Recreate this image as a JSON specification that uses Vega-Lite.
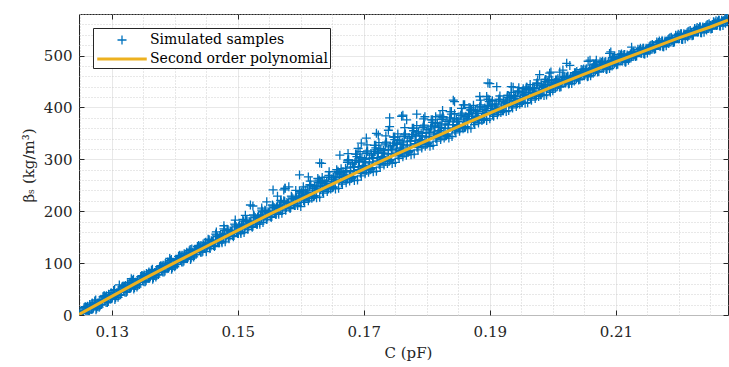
{
"$schema": "https://vega.github.io/schema/vega-lite/v6.json",
"autosize": {"type": "none"},
"padding": {"left": 79, "top": 14, "right": 1, "bottom": 52},
"width": 649,
"height": 301,
"config": {
  "font": "DejaVu Serif",
  "view": {"stroke": "#262626", "strokeWidth": 1},
  "axis": {"labelFont": "DejaVu Serif", "titleFont": "DejaVu Serif", "labelColor": "#262626", "titleColor": "#262626", "labelFontSize": 15, "titleFontSize": 15, "titleFontWeight": "normal", "domain": false, "tickColor": "#262626", "tickWidth": 1},
  "legend": {"labelFont": "DejaVu Serif"}
},
"datasets": {
"samples": [
{"C":0.1246,"beta":-4},{"C":0.1248,"beta":3},
{"C":0.125,"beta":-6},{"C":0.1253,"beta":8},{"C":0.1255,"beta":3},{"C":0.1258,"beta":16},
{"C":0.126,"beta":15},{"C":0.1263,"beta":4},{"C":0.1265,"beta":20},{"C":0.1268,"beta":11},
{"C":0.127,"beta":12},{"C":0.1273,"beta":27},{"C":0.1275,"beta":10},{"C":0.1278,"beta":23},
{"C":0.128,"beta":15},{"C":0.1283,"beta":29},{"C":0.1285,"beta":24},{"C":0.1288,"beta":37},
{"C":0.129,"beta":35},{"C":0.1293,"beta":24},{"C":0.1295,"beta":40},{"C":0.1298,"beta":31},
{"C":0.13,"beta":32},{"C":0.1303,"beta":47},{"C":0.1305,"beta":30},{"C":0.1308,"beta":43},
{"C":0.131,"beta":34},{"C":0.1313,"beta":48},{"C":0.1315,"beta":43},{"C":0.1318,"beta":56},
{"C":0.132,"beta":55},{"C":0.1323,"beta":44},{"C":0.1325,"beta":60},{"C":0.1328,"beta":51},
{"C":0.133,"beta":52},{"C":0.1333,"beta":67},{"C":0.1335,"beta":50},{"C":0.1338,"beta":63},
{"C":0.134,"beta":54},{"C":0.1343,"beta":68},{"C":0.1345,"beta":63},{"C":0.1348,"beta":76},
{"C":0.135,"beta":75},{"C":0.1353,"beta":64},{"C":0.1355,"beta":80},{"C":0.1358,"beta":71},
{"C":0.136,"beta":71},{"C":0.1363,"beta":86},{"C":0.1365,"beta":69},{"C":0.1368,"beta":82},
{"C":0.137,"beta":73},{"C":0.1373,"beta":87},{"C":0.1375,"beta":82},{"C":0.1378,"beta":95},
{"C":0.138,"beta":94},{"C":0.1383,"beta":83},{"C":0.1385,"beta":99},{"C":0.1388,"beta":90},
{"C":0.139,"beta":90},{"C":0.1393,"beta":105},{"C":0.1395,"beta":88},{"C":0.1398,"beta":101},
{"C":0.14,"beta":93},{"C":0.1403,"beta":107},{"C":0.1405,"beta":102},{"C":0.1408,"beta":115},
{"C":0.141,"beta":113},{"C":0.1413,"beta":102},{"C":0.1415,"beta":118},{"C":0.1418,"beta":109},
{"C":0.142,"beta":109},{"C":0.1423,"beta":124},{"C":0.1425,"beta":107},{"C":0.1428,"beta":120},
{"C":0.143,"beta":112},{"C":0.1433,"beta":126},{"C":0.1435,"beta":121},{"C":0.1438,"beta":134},
{"C":0.144,"beta":132},{"C":0.1443,"beta":121},{"C":0.1445,"beta":137},{"C":0.1448,"beta":128},
{"C":0.1312,"beta":58},{"C":0.1331,"beta":70},{"C":0.1392,"beta":109},{"C":0.1427,"beta":127},
{"C":0.1251,"beta":6},{"C":0.1254,"beta":-1},{"C":0.1256,"beta":14},{"C":0.1259,"beta":6},
{"C":0.1261,"beta":4},{"C":0.1264,"beta":12},{"C":0.1266,"beta":17},{"C":0.1269,"beta":23},
{"C":0.1271,"beta":15},{"C":0.1274,"beta":24},{"C":0.1276,"beta":13},{"C":0.1279,"beta":23},
{"C":0.1281,"beta":27},{"C":0.1284,"beta":20},{"C":0.1286,"beta":35},{"C":0.1289,"beta":27},
{"C":0.1291,"beta":24},{"C":0.1294,"beta":32},{"C":0.1296,"beta":37},{"C":0.1299,"beta":43},
{"C":0.1301,"beta":35},{"C":0.1304,"beta":44},{"C":0.1306,"beta":33},{"C":0.1309,"beta":43},
{"C":0.1311,"beta":46},{"C":0.1314,"beta":39},{"C":0.1316,"beta":54},{"C":0.1319,"beta":46},
{"C":0.1321,"beta":44},{"C":0.1324,"beta":52},{"C":0.1326,"beta":57},{"C":0.1329,"beta":63},
{"C":0.1331,"beta":55},{"C":0.1334,"beta":64},{"C":0.1336,"beta":53},{"C":0.1339,"beta":63},
{"C":0.1341,"beta":66},{"C":0.1344,"beta":59},{"C":0.1346,"beta":74},{"C":0.1349,"beta":66},
{"C":0.1351,"beta":64},{"C":0.1354,"beta":72},{"C":0.1356,"beta":77},{"C":0.1359,"beta":83},
{"C":0.1361,"beta":74},{"C":0.1364,"beta":83},{"C":0.1366,"beta":72},{"C":0.1369,"beta":82},
{"C":0.1371,"beta":85},{"C":0.1374,"beta":78},{"C":0.1376,"beta":93},{"C":0.1379,"beta":85},
{"C":0.1381,"beta":83},{"C":0.1384,"beta":91},{"C":0.1386,"beta":96},{"C":0.1389,"beta":102},
{"C":0.1391,"beta":93},{"C":0.1394,"beta":102},{"C":0.1396,"beta":91},{"C":0.1399,"beta":101},
{"C":0.1401,"beta":105},{"C":0.1404,"beta":98},{"C":0.1406,"beta":113},{"C":0.1409,"beta":105},
{"C":0.1411,"beta":102},{"C":0.1414,"beta":110},{"C":0.1416,"beta":115},{"C":0.1419,"beta":121},
{"C":0.1421,"beta":112},{"C":0.1424,"beta":121},{"C":0.1426,"beta":110},{"C":0.1429,"beta":120},
{"C":0.1431,"beta":124},{"C":0.1434,"beta":117},{"C":0.1436,"beta":132},{"C":0.1439,"beta":124},
{"C":0.1441,"beta":121},{"C":0.1444,"beta":129},{"C":0.1446,"beta":134},{"C":0.1449,"beta":140},
{"C":0.12515,"beta":-2},{"C":0.12545,"beta":8},{"C":0.12575,"beta":15},
{"C":0.12615,"beta":17},{"C":0.12645,"beta":6},{"C":0.12675,"beta":14},
{"C":0.12715,"beta":17},{"C":0.12745,"beta":29},{"C":0.12775,"beta":17},
{"C":0.12815,"beta":19},{"C":0.12845,"beta":29},{"C":0.12875,"beta":36},
{"C":0.12915,"beta":37},{"C":0.12945,"beta":26},{"C":0.12975,"beta":34},
{"C":0.13015,"beta":37},{"C":0.13045,"beta":49},{"C":0.13075,"beta":37},
{"C":0.13115,"beta":38},{"C":0.13145,"beta":48},{"C":0.13175,"beta":55},
{"C":0.13215,"beta":57},{"C":0.13245,"beta":46},{"C":0.13275,"beta":54},
{"C":0.13315,"beta":57},{"C":0.13345,"beta":69},{"C":0.13375,"beta":57},
{"C":0.13415,"beta":58},{"C":0.13445,"beta":68},{"C":0.13475,"beta":75},
{"C":0.13515,"beta":77},{"C":0.13545,"beta":66},{"C":0.13575,"beta":74},
{"C":0.13615,"beta":76},{"C":0.13645,"beta":88},{"C":0.13675,"beta":76},
{"C":0.13715,"beta":77},{"C":0.13745,"beta":87},{"C":0.13775,"beta":94},
{"C":0.13815,"beta":96},{"C":0.13845,"beta":85},{"C":0.13875,"beta":93},
{"C":0.13915,"beta":95},{"C":0.13945,"beta":107},{"C":0.13975,"beta":95},
{"C":0.14015,"beta":97},{"C":0.14045,"beta":107},{"C":0.14075,"beta":114},
{"C":0.14115,"beta":115},{"C":0.14145,"beta":104},{"C":0.14175,"beta":112},
{"C":0.14215,"beta":114},{"C":0.14245,"beta":126},{"C":0.14275,"beta":114},
{"C":0.14315,"beta":116},{"C":0.14345,"beta":126},{"C":0.14375,"beta":133},
{"C":0.14415,"beta":134},{"C":0.14445,"beta":123},{"C":0.14475,"beta":131},
{"C":0.145,"beta":122},{"C":0.1453,"beta":146},{"C":0.1455,"beta":132},{"C":0.1458,"beta":143},
{"C":0.146,"beta":142},{"C":0.1463,"beta":132},{"C":0.1465,"beta":156},{"C":0.1468,"beta":142},
{"C":0.147,"beta":139},{"C":0.1473,"beta":155},{"C":0.1475,"beta":139},{"C":0.1478,"beta":166},
{"C":0.148,"beta":141},{"C":0.1483,"beta":165},{"C":0.1485,"beta":151},{"C":0.1488,"beta":162},
{"C":0.149,"beta":161},{"C":0.1493,"beta":151},{"C":0.1495,"beta":175},{"C":0.1498,"beta":161},
{"C":0.15,"beta":157},{"C":0.1503,"beta":173},{"C":0.1505,"beta":157},{"C":0.1508,"beta":184},
{"C":0.151,"beta":159},{"C":0.1513,"beta":183},{"C":0.1515,"beta":169},{"C":0.1518,"beta":180},
{"C":0.152,"beta":179},{"C":0.1523,"beta":169},{"C":0.1525,"beta":193},{"C":0.1528,"beta":179},
{"C":0.153,"beta":175},{"C":0.1533,"beta":191},{"C":0.1535,"beta":175},{"C":0.1538,"beta":202},
{"C":0.154,"beta":178},{"C":0.1543,"beta":202},{"C":0.1545,"beta":188},{"C":0.1548,"beta":199},
{"C":0.155,"beta":198},{"C":0.1553,"beta":188},{"C":0.1555,"beta":212},{"C":0.1558,"beta":198},
{"C":0.156,"beta":194},{"C":0.1563,"beta":210},{"C":0.1565,"beta":194},{"C":0.1568,"beta":221},
{"C":0.157,"beta":196},{"C":0.1573,"beta":220},{"C":0.1575,"beta":206},{"C":0.1578,"beta":217},
{"C":0.158,"beta":215},{"C":0.1583,"beta":205},{"C":0.1585,"beta":229},{"C":0.1588,"beta":215},
{"C":0.159,"beta":211},{"C":0.1593,"beta":227},{"C":0.1595,"beta":211},{"C":0.1598,"beta":238},
{"C":0.1451,"beta":131},{"C":0.1454,"beta":143},{"C":0.1456,"beta":128},{"C":0.1459,"beta":141},
{"C":0.1461,"beta":144},{"C":0.1464,"beta":134},{"C":0.1466,"beta":154},{"C":0.1469,"beta":143},
{"C":0.1471,"beta":139},{"C":0.1474,"beta":150},{"C":0.1476,"beta":155},{"C":0.1479,"beta":163},
{"C":0.1481,"beta":150},{"C":0.1484,"beta":162},{"C":0.1486,"beta":147},{"C":0.1489,"beta":160},
{"C":0.1491,"beta":163},{"C":0.1494,"beta":153},{"C":0.1496,"beta":173},{"C":0.1499,"beta":162},
{"C":0.1501,"beta":157},{"C":0.1504,"beta":168},{"C":0.1506,"beta":173},{"C":0.1509,"beta":181},
{"C":0.1511,"beta":168},{"C":0.1514,"beta":180},{"C":0.1516,"beta":165},{"C":0.1519,"beta":178},
{"C":0.1521,"beta":181},{"C":0.1524,"beta":171},{"C":0.1526,"beta":191},{"C":0.1529,"beta":180},
{"C":0.1531,"beta":175},{"C":0.1534,"beta":186},{"C":0.1536,"beta":191},{"C":0.1539,"beta":199},
{"C":0.1541,"beta":187},{"C":0.1544,"beta":199},{"C":0.1546,"beta":184},{"C":0.1549,"beta":197},
{"C":0.1551,"beta":200},{"C":0.1554,"beta":190},{"C":0.1556,"beta":210},{"C":0.1559,"beta":199},
{"C":0.1561,"beta":194},{"C":0.1564,"beta":205},{"C":0.1566,"beta":210},{"C":0.1569,"beta":218},
{"C":0.1571,"beta":205},{"C":0.1574,"beta":217},{"C":0.1576,"beta":202},{"C":0.1579,"beta":215},
{"C":0.1581,"beta":217},{"C":0.1584,"beta":207},{"C":0.1586,"beta":227},{"C":0.1589,"beta":216},
{"C":0.1591,"beta":211},{"C":0.1594,"beta":222},{"C":0.1596,"beta":227},{"C":0.1599,"beta":235},
{"C":0.14515,"beta":133},{"C":0.14545,"beta":145},{"C":0.14575,"beta":133},
{"C":0.14615,"beta":134},{"C":0.14645,"beta":144},{"C":0.14675,"beta":151},
{"C":0.14715,"beta":153},{"C":0.14745,"beta":142},{"C":0.14775,"beta":150},
{"C":0.14815,"beta":152},{"C":0.14845,"beta":164},{"C":0.14875,"beta":152},
{"C":0.14915,"beta":153},{"C":0.14945,"beta":163},{"C":0.14975,"beta":170},
{"C":0.15015,"beta":171},{"C":0.15045,"beta":160},{"C":0.15075,"beta":168},
{"C":0.15115,"beta":170},{"C":0.15145,"beta":182},{"C":0.15175,"beta":170},
{"C":0.15215,"beta":171},{"C":0.15245,"beta":181},{"C":0.15275,"beta":188},
{"C":0.15315,"beta":189},{"C":0.15345,"beta":178},{"C":0.15375,"beta":186},
{"C":0.15415,"beta":189},{"C":0.15445,"beta":201},{"C":0.15475,"beta":189},
{"C":0.15515,"beta":190},{"C":0.15545,"beta":200},{"C":0.15575,"beta":207},
{"C":0.15615,"beta":208},{"C":0.15645,"beta":197},{"C":0.15675,"beta":205},
{"C":0.15715,"beta":207},{"C":0.15745,"beta":219},{"C":0.15775,"beta":207},
{"C":0.15815,"beta":207},{"C":0.15845,"beta":217},{"C":0.15875,"beta":224},
{"C":0.15915,"beta":225},{"C":0.15945,"beta":214},{"C":0.15975,"beta":222},
{"C":0.1496,"beta":183},{"C":0.152,"beta":212},{"C":0.1524,"beta":210},{"C":0.1556,"beta":241},{"C":0.1573,"beta":241},{"C":0.1581,"beta":247},{"C":0.1466,"beta":160},{"C":0.1512,"beta":192},{"C":0.1538,"beta":206},{"C":0.1546,"beta":218},{"C":0.1563,"beta":229},{"C":0.1592,"beta":240},{"C":0.1478,"beta":172},{"C":0.1575,"beta":244},
{"C":0.16,"beta":209},{"C":0.1602,"beta":230},{"C":0.1604,"beta":247},{"C":0.1605,"beta":223},{"C":0.1607,"beta":241},{"C":0.1609,"beta":232},
{"C":0.161,"beta":229},{"C":0.1612,"beta":220},{"C":0.1614,"beta":247},{"C":0.1615,"beta":258},{"C":0.1617,"beta":229},{"C":0.1619,"beta":244},
{"C":0.162,"beta":228},{"C":0.1622,"beta":248},{"C":0.1624,"beta":240},{"C":0.1625,"beta":226},{"C":0.1627,"beta":263},{"C":0.1629,"beta":258},
{"C":0.163,"beta":227},{"C":0.1632,"beta":248},{"C":0.1634,"beta":265},{"C":0.1635,"beta":241},{"C":0.1637,"beta":259},{"C":0.1639,"beta":250},
{"C":0.164,"beta":247},{"C":0.1642,"beta":238},{"C":0.1644,"beta":265},{"C":0.1645,"beta":276},{"C":0.1647,"beta":247},{"C":0.1649,"beta":262},
{"C":0.165,"beta":245},{"C":0.1652,"beta":265},{"C":0.1654,"beta":257},{"C":0.1655,"beta":243},{"C":0.1657,"beta":280},{"C":0.1659,"beta":275},
{"C":0.166,"beta":244},{"C":0.1662,"beta":265},{"C":0.1664,"beta":282},{"C":0.1665,"beta":258},{"C":0.1667,"beta":276},{"C":0.1669,"beta":267},
{"C":0.1601,"beta":224},{"C":0.1604,"beta":240},{"C":0.1606,"beta":217},{"C":0.1609,"beta":235},
{"C":0.1611,"beta":239},{"C":0.1614,"beta":225},{"C":0.1616,"beta":250},{"C":0.1619,"beta":236},
{"C":0.1621,"beta":229},{"C":0.1624,"beta":243},{"C":0.1626,"beta":249},{"C":0.1629,"beta":260},
{"C":0.1631,"beta":242},{"C":0.1634,"beta":258},{"C":0.1636,"beta":235},{"C":0.1639,"beta":253},
{"C":0.1641,"beta":257},{"C":0.1644,"beta":243},{"C":0.1646,"beta":268},{"C":0.1649,"beta":254},
{"C":0.1651,"beta":246},{"C":0.1654,"beta":260},{"C":0.1656,"beta":266},{"C":0.1659,"beta":277},
{"C":0.1661,"beta":259},{"C":0.1664,"beta":275},{"C":0.1666,"beta":252},{"C":0.1669,"beta":270},
{"C":0.16015,"beta":237},{"C":0.16045,"beta":220},{"C":0.16075,"beta":230},
{"C":0.16115,"beta":231},{"C":0.16145,"beta":251},{"C":0.16175,"beta":225},
{"C":0.16215,"beta":230},{"C":0.16245,"beta":245},{"C":0.16275,"beta":255},
{"C":0.16315,"beta":255},{"C":0.16345,"beta":238},{"C":0.16375,"beta":248},
{"C":0.16415,"beta":249},{"C":0.16445,"beta":269},{"C":0.16475,"beta":243},
{"C":0.16515,"beta":247},{"C":0.16545,"beta":262},{"C":0.16575,"beta":272},
{"C":0.16615,"beta":272},{"C":0.16645,"beta":255},{"C":0.16675,"beta":265},
{"C":0.167,"beta":266},{"C":0.1672,"beta":255},{"C":0.1674,"beta":294},{"C":0.1675,"beta":311},{"C":0.1677,"beta":268},{"C":0.1679,"beta":285},{"C":0.1673,"beta":278},
{"C":0.168,"beta":263},{"C":0.1682,"beta":291},{"C":0.1684,"beta":278},{"C":0.1685,"beta":259},{"C":0.1687,"beta":310},{"C":0.1689,"beta":305},{"C":0.1683,"beta":267},
{"C":0.169,"beta":260},{"C":0.1692,"beta":286},{"C":0.1694,"beta":315},{"C":0.1695,"beta":275},{"C":0.1697,"beta":303},{"C":0.1699,"beta":288},{"C":0.1693,"beta":295},
{"C":0.17,"beta":283},{"C":0.1702,"beta":272},{"C":0.1704,"beta":311},{"C":0.1705,"beta":328},{"C":0.1707,"beta":285},{"C":0.1709,"beta":302},{"C":0.1703,"beta":295},
{"C":0.171,"beta":280},{"C":0.1712,"beta":308},{"C":0.1714,"beta":295},{"C":0.1715,"beta":276},{"C":0.1717,"beta":327},{"C":0.1719,"beta":322},{"C":0.1713,"beta":284},
{"C":0.172,"beta":277},{"C":0.1722,"beta":303},{"C":0.1724,"beta":332},{"C":0.1725,"beta":292},{"C":0.1727,"beta":320},{"C":0.1729,"beta":305},{"C":0.1723,"beta":312},
{"C":0.173,"beta":300},{"C":0.1732,"beta":289},{"C":0.1734,"beta":328},{"C":0.1735,"beta":345},{"C":0.1737,"beta":302},{"C":0.1739,"beta":319},{"C":0.1733,"beta":312},
{"C":0.174,"beta":296},{"C":0.1742,"beta":324},{"C":0.1744,"beta":311},{"C":0.1745,"beta":292},{"C":0.1747,"beta":343},{"C":0.1749,"beta":338},{"C":0.1743,"beta":300},
{"C":0.175,"beta":294},{"C":0.1752,"beta":320},{"C":0.1754,"beta":349},{"C":0.1755,"beta":309},{"C":0.1757,"beta":337},{"C":0.1759,"beta":322},{"C":0.1753,"beta":329},
{"C":0.176,"beta":316},{"C":0.1762,"beta":305},{"C":0.1764,"beta":344},{"C":0.1765,"beta":361},{"C":0.1767,"beta":318},{"C":0.1769,"beta":335},{"C":0.1763,"beta":328},
{"C":0.177,"beta":313},{"C":0.1772,"beta":341},{"C":0.1774,"beta":328},{"C":0.1775,"beta":309},{"C":0.1777,"beta":360},{"C":0.1779,"beta":355},{"C":0.1773,"beta":317},
{"C":0.178,"beta":310},{"C":0.1782,"beta":336},{"C":0.1784,"beta":365},{"C":0.1785,"beta":325},{"C":0.1787,"beta":353},{"C":0.1789,"beta":338},{"C":0.1783,"beta":345},
{"C":0.179,"beta":333},{"C":0.1792,"beta":322},{"C":0.1794,"beta":361},{"C":0.1795,"beta":378},{"C":0.1797,"beta":335},{"C":0.1799,"beta":352},{"C":0.1793,"beta":345},
{"C":0.18,"beta":329},{"C":0.1802,"beta":357},{"C":0.1804,"beta":344},{"C":0.1805,"beta":325},{"C":0.1807,"beta":376},{"C":0.1809,"beta":371},{"C":0.1803,"beta":333},
{"C":0.181,"beta":327},{"C":0.1812,"beta":353},{"C":0.1814,"beta":382},{"C":0.1815,"beta":342},{"C":0.1817,"beta":370},{"C":0.1819,"beta":355},{"C":0.1813,"beta":362},
{"C":0.182,"beta":349},{"C":0.1822,"beta":338},{"C":0.1824,"beta":377},{"C":0.1825,"beta":394},{"C":0.1827,"beta":351},{"C":0.1829,"beta":368},{"C":0.1823,"beta":361},
{"C":0.183,"beta":345},{"C":0.1832,"beta":373},{"C":0.1834,"beta":360},{"C":0.1835,"beta":341},{"C":0.1837,"beta":392},{"C":0.1839,"beta":387},{"C":0.1833,"beta":349},
{"C":0.1671,"beta":283},{"C":0.1674,"beta":262},{"C":0.1676,"beta":299},{"C":0.1679,"beta":276},
{"C":0.1681,"beta":264},{"C":0.1684,"beta":285},{"C":0.1686,"beta":294},{"C":0.1689,"beta":310},
{"C":0.1691,"beta":280},{"C":0.1694,"beta":303},{"C":0.1696,"beta":268},{"C":0.1699,"beta":295},
{"C":0.1701,"beta":300},{"C":0.1704,"beta":279},{"C":0.1706,"beta":316},{"C":0.1709,"beta":293},
{"C":0.1711,"beta":281},{"C":0.1714,"beta":302},{"C":0.1716,"beta":311},{"C":0.1719,"beta":327},
{"C":0.1721,"beta":297},{"C":0.1724,"beta":320},{"C":0.1726,"beta":285},{"C":0.1729,"beta":312},
{"C":0.1731,"beta":317},{"C":0.1734,"beta":296},{"C":0.1736,"beta":333},{"C":0.1739,"beta":310},
{"C":0.1741,"beta":297},{"C":0.1744,"beta":318},{"C":0.1746,"beta":327},{"C":0.1749,"beta":343},
{"C":0.1751,"beta":314},{"C":0.1754,"beta":337},{"C":0.1756,"beta":302},{"C":0.1759,"beta":329},
{"C":0.1761,"beta":333},{"C":0.1764,"beta":312},{"C":0.1766,"beta":349},{"C":0.1769,"beta":326},
{"C":0.1771,"beta":314},{"C":0.1774,"beta":335},{"C":0.1776,"beta":344},{"C":0.1779,"beta":360},
{"C":0.1781,"beta":330},{"C":0.1784,"beta":353},{"C":0.1786,"beta":318},{"C":0.1789,"beta":345},
{"C":0.1791,"beta":350},{"C":0.1794,"beta":329},{"C":0.1796,"beta":366},{"C":0.1799,"beta":343},
{"C":0.1801,"beta":330},{"C":0.1804,"beta":351},{"C":0.1806,"beta":360},{"C":0.1809,"beta":376},
{"C":0.1811,"beta":347},{"C":0.1814,"beta":370},{"C":0.1816,"beta":335},{"C":0.1819,"beta":362},
{"C":0.1821,"beta":366},{"C":0.1824,"beta":345},{"C":0.1826,"beta":382},{"C":0.1829,"beta":359},
{"C":0.1831,"beta":346},{"C":0.1834,"beta":367},{"C":0.1836,"beta":376},{"C":0.1839,"beta":392},
{"C":0.16715,"beta":268},{"C":0.16745,"beta":297},{"C":0.16775,"beta":258},
{"C":0.16815,"beta":265},{"C":0.16845,"beta":285},{"C":0.16875,"beta":298},
{"C":0.16915,"beta":297},{"C":0.16945,"beta":273},{"C":0.16975,"beta":283},
{"C":0.17015,"beta":285},{"C":0.17045,"beta":314},{"C":0.17075,"beta":275},
{"C":0.17115,"beta":282},{"C":0.17145,"beta":302},{"C":0.17175,"beta":315},
{"C":0.17215,"beta":314},{"C":0.17245,"beta":290},{"C":0.17275,"beta":300},
{"C":0.17315,"beta":302},{"C":0.17345,"beta":331},{"C":0.17375,"beta":292},
{"C":0.17415,"beta":298},{"C":0.17445,"beta":318},{"C":0.17475,"beta":331},
{"C":0.17515,"beta":331},{"C":0.17545,"beta":307},{"C":0.17575,"beta":317},
{"C":0.17615,"beta":318},{"C":0.17645,"beta":347},{"C":0.17675,"beta":308},
{"C":0.17715,"beta":315},{"C":0.17745,"beta":335},{"C":0.17775,"beta":348},
{"C":0.17815,"beta":347},{"C":0.17845,"beta":323},{"C":0.17875,"beta":333},
{"C":0.17915,"beta":335},{"C":0.17945,"beta":364},{"C":0.17975,"beta":325},
{"C":0.18015,"beta":331},{"C":0.18045,"beta":351},{"C":0.18075,"beta":364},
{"C":0.18115,"beta":364},{"C":0.18145,"beta":340},{"C":0.18175,"beta":350},
{"C":0.18215,"beta":351},{"C":0.18245,"beta":380},{"C":0.18275,"beta":341},
{"C":0.18315,"beta":347},{"C":0.18345,"beta":367},{"C":0.18375,"beta":380},
{"C":0.184,"beta":344},{"C":0.1842,"beta":367},{"C":0.1844,"beta":388},{"C":0.1845,"beta":358},{"C":0.1847,"beta":378},{"C":0.1849,"beta":367},
{"C":0.185,"beta":363},{"C":0.1852,"beta":354},{"C":0.1854,"beta":385},{"C":0.1855,"beta":398},{"C":0.1857,"beta":363},{"C":0.1859,"beta":380},
{"C":0.186,"beta":361},{"C":0.1862,"beta":383},{"C":0.1864,"beta":374},{"C":0.1865,"beta":359},{"C":0.1867,"beta":400},{"C":0.1869,"beta":395},
{"C":0.187,"beta":360},{"C":0.1872,"beta":383},{"C":0.1874,"beta":404},{"C":0.1875,"beta":374},{"C":0.1877,"beta":394},{"C":0.1879,"beta":383},
{"C":0.188,"beta":379},{"C":0.1882,"beta":370},{"C":0.1884,"beta":401},{"C":0.1885,"beta":414},{"C":0.1887,"beta":379},{"C":0.1889,"beta":396},
{"C":0.189,"beta":377},{"C":0.1892,"beta":399},{"C":0.1894,"beta":390},{"C":0.1895,"beta":375},{"C":0.1897,"beta":416},{"C":0.1899,"beta":411},
{"C":0.1841,"beta":360},{"C":0.1844,"beta":379},{"C":0.1846,"beta":351},{"C":0.1849,"beta":373},
{"C":0.1851,"beta":376},{"C":0.1854,"beta":360},{"C":0.1856,"beta":389},{"C":0.1859,"beta":372},
{"C":0.1861,"beta":362},{"C":0.1864,"beta":378},{"C":0.1866,"beta":386},{"C":0.1869,"beta":399},
{"C":0.1871,"beta":376},{"C":0.1874,"beta":395},{"C":0.1876,"beta":367},{"C":0.1879,"beta":389},
{"C":0.1881,"beta":392},{"C":0.1884,"beta":376},{"C":0.1886,"beta":405},{"C":0.1889,"beta":388},
{"C":0.1891,"beta":378},{"C":0.1894,"beta":394},{"C":0.1896,"beta":402},{"C":0.1899,"beta":415},
{"C":0.18415,"beta":372},{"C":0.18445,"beta":355},{"C":0.18475,"beta":365},
{"C":0.18515,"beta":365},{"C":0.18545,"beta":385},{"C":0.18575,"beta":359},
{"C":0.18615,"beta":363},{"C":0.18645,"beta":378},{"C":0.18675,"beta":388},
{"C":0.18715,"beta":388},{"C":0.18745,"beta":371},{"C":0.18775,"beta":381},
{"C":0.18815,"beta":381},{"C":0.18845,"beta":401},{"C":0.18875,"beta":375},
{"C":0.18915,"beta":379},{"C":0.18945,"beta":394},{"C":0.18975,"beta":404},
{"C":0.1598,"beta":270},{"C":0.1612,"beta":266},{"C":0.1633,"beta":292},{"C":0.1662,"beta":308},{"C":0.1675,"beta":299},{"C":0.1696,"beta":331},{"C":0.1704,"beta":341},{"C":0.1717,"beta":318},{"C":0.1723,"beta":347},{"C":0.1741,"beta":380},{"C":0.1741,"beta":363},{"C":0.176,"beta":383},{"C":0.1768,"beta":376},{"C":0.1784,"beta":387},{"C":0.1797,"beta":382},{"C":0.1821,"beta":385},{"C":0.1842,"beta":414},{"C":0.1858,"beta":405},{"C":0.1871,"beta":395},{"C":0.1895,"beta":421},{"C":0.19,"beta":446},{"C":0.1911,"beta":440},{"C":0.1691,"beta":321},{"C":0.172,"beta":350},{"C":0.1739,"beta":356},{"C":0.163,"beta":293},{"C":0.1575,"beta":244},{"C":0.1762,"beta":385},{"C":0.1844,"beta":411},{"C":0.186,"beta":405},{"C":0.1884,"beta":421},{"C":0.1897,"beta":447},
{"C":0.19,"beta":378},{"C":0.1902,"beta":398},{"C":0.1904,"beta":413},{"C":0.1906,"beta":389},{"C":0.1908,"beta":407},
{"C":0.191,"beta":397},{"C":0.1912,"beta":386},{"C":0.1914,"beta":412},{"C":0.1916,"beta":422},{"C":0.1918,"beta":397},
{"C":0.192,"beta":394},{"C":0.1922,"beta":412},{"C":0.1924,"beta":403},{"C":0.1926,"beta":392},{"C":0.1928,"beta":423},
{"C":0.193,"beta":394},{"C":0.1932,"beta":414},{"C":0.1934,"beta":429},{"C":0.1936,"beta":405},{"C":0.1938,"beta":423},
{"C":0.194,"beta":413},{"C":0.1942,"beta":402},{"C":0.1944,"beta":428},{"C":0.1946,"beta":438},{"C":0.1948,"beta":413},
{"C":0.195,"beta":410},{"C":0.1952,"beta":428},{"C":0.1954,"beta":419},{"C":0.1956,"beta":408},{"C":0.1958,"beta":439},
{"C":0.196,"beta":409},{"C":0.1962,"beta":429},{"C":0.1964,"beta":444},{"C":0.1966,"beta":420},{"C":0.1968,"beta":438},
{"C":0.197,"beta":428},{"C":0.1972,"beta":417},{"C":0.1974,"beta":443},{"C":0.1976,"beta":453},{"C":0.1978,"beta":428},
{"C":0.198,"beta":425},{"C":0.1982,"beta":443},{"C":0.1984,"beta":434},{"C":0.1986,"beta":423},{"C":0.1988,"beta":454},
{"C":0.199,"beta":424},{"C":0.1992,"beta":444},{"C":0.1994,"beta":459},{"C":0.1996,"beta":435},{"C":0.1998,"beta":453},
{"C":0.1901,"beta":391},{"C":0.1904,"beta":406},{"C":0.1906,"beta":383},{"C":0.1909,"beta":401},
{"C":0.1911,"beta":405},{"C":0.1914,"beta":391},{"C":0.1916,"beta":415},{"C":0.1919,"beta":400},
{"C":0.1921,"beta":393},{"C":0.1924,"beta":407},{"C":0.1926,"beta":412},{"C":0.1929,"beta":423},
{"C":0.1931,"beta":407},{"C":0.1934,"beta":422},{"C":0.1936,"beta":399},{"C":0.1939,"beta":417},
{"C":0.1941,"beta":421},{"C":0.1944,"beta":407},{"C":0.1946,"beta":431},{"C":0.1949,"beta":416},
{"C":0.1951,"beta":409},{"C":0.1954,"beta":423},{"C":0.1956,"beta":428},{"C":0.1959,"beta":439},
{"C":0.1961,"beta":422},{"C":0.1964,"beta":437},{"C":0.1966,"beta":414},{"C":0.1969,"beta":432},
{"C":0.1971,"beta":436},{"C":0.1974,"beta":422},{"C":0.1976,"beta":446},{"C":0.1979,"beta":431},
{"C":0.1981,"beta":424},{"C":0.1984,"beta":438},{"C":0.1986,"beta":443},{"C":0.1989,"beta":454},
{"C":0.1991,"beta":437},{"C":0.1994,"beta":452},{"C":0.1996,"beta":429},{"C":0.1999,"beta":447},
{"C":0.19015,"beta":403},{"C":0.19045,"beta":386},{"C":0.19075,"beta":396},
{"C":0.19115,"beta":396},{"C":0.19145,"beta":416},{"C":0.19175,"beta":390},
{"C":0.19215,"beta":394},{"C":0.19245,"beta":409},{"C":0.19275,"beta":419},
{"C":0.19315,"beta":419},{"C":0.19345,"beta":402},{"C":0.19375,"beta":412},
{"C":0.19415,"beta":412},{"C":0.19445,"beta":432},{"C":0.19475,"beta":406},
{"C":0.19515,"beta":410},{"C":0.19545,"beta":425},{"C":0.19575,"beta":435},
{"C":0.19615,"beta":434},{"C":0.19645,"beta":417},{"C":0.19675,"beta":427},
{"C":0.19715,"beta":427},{"C":0.19745,"beta":447},{"C":0.19775,"beta":421},
{"C":0.19815,"beta":425},{"C":0.19845,"beta":440},{"C":0.19875,"beta":450},
{"C":0.19915,"beta":449},{"C":0.19945,"beta":432},{"C":0.19975,"beta":442},
{"C":0.1934,"beta":440},{"C":0.1979,"beta":463},{"C":0.1995,"beta":466},{"C":0.1997,"beta":468},{"C":0.2011,"beta":468},{"C":0.2027,"beta":481},{"C":0.2056,"beta":489},{"C":0.2069,"beta":491},{"C":0.209,"beta":504},{"C":0.2125,"beta":516},{"C":0.1937,"beta":439},{"C":0.1953,"beta":436},{"C":0.2022,"beta":485},{"C":0.2059,"beta":491},{"C":0.2016,"beta":472},{"C":0.2092,"beta":507},
{"C":0.2,"beta":432},{"C":0.2003,"beta":447},{"C":0.2005,"beta":441},{"C":0.2008,"beta":455},
{"C":0.201,"beta":449},{"C":0.2013,"beta":440},{"C":0.2015,"beta":459},{"C":0.2018,"beta":449},
{"C":0.202,"beta":447},{"C":0.2023,"beta":460},{"C":0.2025,"beta":445},{"C":0.2028,"beta":459},
{"C":0.203,"beta":446},{"C":0.2033,"beta":461},{"C":0.2035,"beta":455},{"C":0.2038,"beta":469},
{"C":0.204,"beta":463},{"C":0.2043,"beta":454},{"C":0.2045,"beta":473},{"C":0.2048,"beta":463},
{"C":0.205,"beta":461},{"C":0.2053,"beta":474},{"C":0.2055,"beta":459},{"C":0.2058,"beta":473},
{"C":0.206,"beta":461},{"C":0.2063,"beta":476},{"C":0.2065,"beta":470},{"C":0.2068,"beta":484},
{"C":0.207,"beta":478},{"C":0.2073,"beta":469},{"C":0.2075,"beta":488},{"C":0.2078,"beta":478},
{"C":0.208,"beta":475},{"C":0.2083,"beta":488},{"C":0.2085,"beta":473},{"C":0.2088,"beta":487},
{"C":0.209,"beta":475},{"C":0.2093,"beta":490},{"C":0.2095,"beta":484},{"C":0.2098,"beta":498},
{"C":0.21,"beta":492},{"C":0.2103,"beta":483},{"C":0.2105,"beta":502},{"C":0.2108,"beta":492},
{"C":0.211,"beta":489},{"C":0.2113,"beta":502},{"C":0.2115,"beta":487},{"C":0.2118,"beta":501},
{"C":0.2001,"beta":444},{"C":0.2004,"beta":437},{"C":0.2006,"beta":453},{"C":0.2009,"beta":444},
{"C":0.2011,"beta":439},{"C":0.2014,"beta":449},{"C":0.2016,"beta":453},{"C":0.2019,"beta":460},
{"C":0.2021,"beta":449},{"C":0.2024,"beta":460},{"C":0.2026,"beta":446},{"C":0.2029,"beta":457},
{"C":0.2031,"beta":458},{"C":0.2034,"beta":451},{"C":0.2036,"beta":467},{"C":0.2039,"beta":458},
{"C":0.2041,"beta":453},{"C":0.2044,"beta":463},{"C":0.2046,"beta":467},{"C":0.2049,"beta":474},
{"C":0.2051,"beta":463},{"C":0.2054,"beta":474},{"C":0.2056,"beta":460},{"C":0.2059,"beta":471},
{"C":0.2061,"beta":473},{"C":0.2064,"beta":466},{"C":0.2066,"beta":482},{"C":0.2069,"beta":473},
{"C":0.2071,"beta":468},{"C":0.2074,"beta":478},{"C":0.2076,"beta":482},{"C":0.2079,"beta":489},
{"C":0.2081,"beta":477},{"C":0.2084,"beta":488},{"C":0.2086,"beta":474},{"C":0.2089,"beta":485},
{"C":0.2091,"beta":487},{"C":0.2094,"beta":480},{"C":0.2096,"beta":496},{"C":0.2099,"beta":487},
{"C":0.2101,"beta":482},{"C":0.2104,"beta":492},{"C":0.2106,"beta":496},{"C":0.2109,"beta":503},
{"C":0.2111,"beta":491},{"C":0.2114,"beta":502},{"C":0.2116,"beta":488},{"C":0.2119,"beta":499},
{"C":0.20015,"beta":441},{"C":0.20045,"beta":453},{"C":0.20075,"beta":441},
{"C":0.20115,"beta":441},{"C":0.20145,"beta":451},{"C":0.20175,"beta":458},
{"C":0.20215,"beta":458},{"C":0.20245,"beta":447},{"C":0.20275,"beta":455},
{"C":0.20315,"beta":455},{"C":0.20345,"beta":467},{"C":0.20375,"beta":455},
{"C":0.20415,"beta":455},{"C":0.20445,"beta":465},{"C":0.20475,"beta":472},
{"C":0.20515,"beta":472},{"C":0.20545,"beta":461},{"C":0.20575,"beta":469},
{"C":0.20615,"beta":470},{"C":0.20645,"beta":482},{"C":0.20675,"beta":470},
{"C":0.20715,"beta":470},{"C":0.20745,"beta":480},{"C":0.20775,"beta":487},
{"C":0.20815,"beta":486},{"C":0.20845,"beta":475},{"C":0.20875,"beta":483},
{"C":0.20915,"beta":484},{"C":0.20945,"beta":496},{"C":0.20975,"beta":484},
{"C":0.21015,"beta":484},{"C":0.21045,"beta":494},{"C":0.21075,"beta":501},
{"C":0.21115,"beta":500},{"C":0.21145,"beta":489},{"C":0.21175,"beta":497},
{"C":0.212,"beta":491},{"C":0.2123,"beta":503},{"C":0.2125,"beta":498},{"C":0.2128,"beta":507},
{"C":0.213,"beta":505},{"C":0.2133,"beta":499},{"C":0.2135,"beta":512},{"C":0.2138,"beta":506},
{"C":0.214,"beta":504},{"C":0.2143,"beta":514},{"C":0.2145,"beta":503},{"C":0.2148,"beta":514},
{"C":0.215,"beta":505},{"C":0.2153,"beta":517},{"C":0.2155,"beta":512},{"C":0.2158,"beta":521},
{"C":0.216,"beta":519},{"C":0.2163,"beta":513},{"C":0.2165,"beta":526},{"C":0.2168,"beta":520},
{"C":0.217,"beta":518},{"C":0.2173,"beta":528},{"C":0.2175,"beta":517},{"C":0.2178,"beta":528},
{"C":0.218,"beta":519},{"C":0.2183,"beta":531},{"C":0.2185,"beta":526},{"C":0.2188,"beta":535},
{"C":0.219,"beta":532},{"C":0.2193,"beta":526},{"C":0.2195,"beta":539},{"C":0.2198,"beta":533},
{"C":0.22,"beta":532},{"C":0.2203,"beta":542},{"C":0.2205,"beta":531},{"C":0.2208,"beta":542},
{"C":0.221,"beta":532},{"C":0.2213,"beta":544},{"C":0.2215,"beta":539},{"C":0.2218,"beta":548},
{"C":0.222,"beta":545},{"C":0.2223,"beta":539},{"C":0.2225,"beta":552},{"C":0.2228,"beta":546},
{"C":0.223,"beta":545},{"C":0.2233,"beta":555},{"C":0.2235,"beta":544},{"C":0.2238,"beta":555},
{"C":0.224,"beta":545},{"C":0.2243,"beta":557},{"C":0.2245,"beta":552},{"C":0.2248,"beta":561},
{"C":0.225,"beta":558},{"C":0.2253,"beta":552},{"C":0.2255,"beta":565},{"C":0.2258,"beta":559},
{"C":0.226,"beta":558},{"C":0.2263,"beta":568},{"C":0.2265,"beta":557},{"C":0.2268,"beta":568},
{"C":0.227,"beta":558},{"C":0.2273,"beta":570},{"C":0.2275,"beta":565},{"C":0.2278,"beta":574},{"C":0.2282,"beta":572},
{"C":0.2121,"beta":500},{"C":0.2124,"beta":495},{"C":0.2126,"beta":506},{"C":0.2129,"beta":501},
{"C":0.2131,"beta":498},{"C":0.2134,"beta":506},{"C":0.2136,"beta":508},{"C":0.2139,"beta":514},
{"C":0.2141,"beta":505},{"C":0.2144,"beta":514},{"C":0.2146,"beta":503},{"C":0.2149,"beta":512},
{"C":0.2151,"beta":514},{"C":0.2154,"beta":509},{"C":0.2156,"beta":520},{"C":0.2159,"beta":515},
{"C":0.2161,"beta":512},{"C":0.2164,"beta":520},{"C":0.2166,"beta":522},{"C":0.2169,"beta":528},
{"C":0.2171,"beta":519},{"C":0.2174,"beta":528},{"C":0.2176,"beta":517},{"C":0.2179,"beta":526},
{"C":0.2181,"beta":528},{"C":0.2184,"beta":523},{"C":0.2186,"beta":534},{"C":0.2189,"beta":529},
{"C":0.2191,"beta":525},{"C":0.2194,"beta":533},{"C":0.2196,"beta":535},{"C":0.2199,"beta":541},
{"C":0.2201,"beta":533},{"C":0.2204,"beta":542},{"C":0.2206,"beta":531},{"C":0.2209,"beta":540},
{"C":0.2211,"beta":541},{"C":0.2214,"beta":536},{"C":0.2216,"beta":547},{"C":0.2219,"beta":542},
{"C":0.2221,"beta":538},{"C":0.2224,"beta":546},{"C":0.2226,"beta":548},{"C":0.2229,"beta":554},
{"C":0.2231,"beta":546},{"C":0.2234,"beta":555},{"C":0.2236,"beta":544},{"C":0.2239,"beta":553},
{"C":0.2241,"beta":554},{"C":0.2244,"beta":549},{"C":0.2246,"beta":560},{"C":0.2249,"beta":555},
{"C":0.2251,"beta":551},{"C":0.2254,"beta":559},{"C":0.2256,"beta":561},{"C":0.2259,"beta":567},
{"C":0.2261,"beta":559},{"C":0.2264,"beta":568},{"C":0.2266,"beta":557},{"C":0.2269,"beta":566},
{"C":0.2271,"beta":567},{"C":0.2274,"beta":562},{"C":0.2276,"beta":573},{"C":0.2279,"beta":568},
{"C":0.21215,"beta":497},{"C":0.21245,"beta":505},{"C":0.21275,"beta":498},
{"C":0.21315,"beta":499},{"C":0.21345,"beta":507},{"C":0.21375,"beta":511},
{"C":0.21415,"beta":511},{"C":0.21445,"beta":504},{"C":0.21475,"beta":510},
{"C":0.21515,"beta":511},{"C":0.21545,"beta":519},{"C":0.21575,"beta":512},
{"C":0.21615,"beta":513},{"C":0.21645,"beta":521},{"C":0.21675,"beta":525},
{"C":0.21715,"beta":525},{"C":0.21745,"beta":518},{"C":0.21775,"beta":524},
{"C":0.21815,"beta":525},{"C":0.21845,"beta":533},{"C":0.21875,"beta":526},
{"C":0.21915,"beta":526},{"C":0.21945,"beta":534},{"C":0.21975,"beta":538},
{"C":0.22015,"beta":539},{"C":0.22045,"beta":532},{"C":0.22075,"beta":538},
{"C":0.22115,"beta":538},{"C":0.22145,"beta":546},{"C":0.22175,"beta":539},
{"C":0.22215,"beta":539},{"C":0.22245,"beta":547},{"C":0.22275,"beta":551},
{"C":0.22315,"beta":552},{"C":0.22345,"beta":545},{"C":0.22375,"beta":551},
{"C":0.22415,"beta":551},{"C":0.22445,"beta":559},{"C":0.22475,"beta":552},
{"C":0.22515,"beta":552},{"C":0.22545,"beta":560},{"C":0.22575,"beta":564},
{"C":0.22615,"beta":565},{"C":0.22645,"beta":558},{"C":0.22675,"beta":564},
{"C":0.22715,"beta":564},{"C":0.22745,"beta":572},{"C":0.22775,"beta":565}
],
"fit": [
{"C":0.1248,"beta":1},{"C":0.1275,"beta":19},{"C":0.13,"beta":36},{"C":0.135,"beta":69},{"C":0.14,"beta":101},{"C":0.145,"beta":132},{"C":0.15,"beta":163},{"C":0.155,"beta":194},{"C":0.16,"beta":223},{"C":0.165,"beta":252},{"C":0.17,"beta":281},{"C":0.175,"beta":309},{"C":0.18,"beta":336},{"C":0.185,"beta":363},{"C":0.19,"beta":389},{"C":0.195,"beta":415},{"C":0.2,"beta":440},{"C":0.205,"beta":464},{"C":0.21,"beta":488},{"C":0.215,"beta":511},{"C":0.22,"beta":534},{"C":0.225,"beta":555},{"C":0.2278,"beta":568}
]
},
"layer": [
  {
    "data": {"name": "samples"},
    "mark": {"type": "point", "filled": false, "size": 324, "strokeWidth": 1.3, "opacity": 1, "clip": true},
    "encoding": {
      "x": {"field": "C", "type": "quantitative", "scale": {"domain": [0.1248, 0.2278], "nice": false, "zero": false},
        "axis": {"orient": "bottom", "title": "C (pF)", "values": [0.125,0.13,0.135,0.14,0.145,0.15,0.155,0.16,0.165,0.17,0.175,0.18,0.185,0.19,0.195,0.2,0.205,0.21,0.215,0.22,0.225],
          "labelExpr": "round(datum.value*1000) % 20 == 10 ? format(datum.value, '.2f') : ''",
          "tickSize": -5,
          "tickOpacity": {"condition": {"test": "round(datum.value*1000) % 20 == 10", "value": 1}, "value": 0},
          "grid": true,
          "gridColor": {"condition": {"test": "round(datum.value*1000) % 20 == 10", "value": "#e2e2e2"}, "value": "#c4c4c4"},
          "gridDash": {"condition": {"test": "round(datum.value*1000) % 20 == 10", "value": []}, "value": [1, 2]},
          "gridWidth": 0.8,
          "labelPadding": 14, "labelOverlap": false, "labelFlush": false,
          "titleX": 329, "titleY": 42, "titleBaseline": "alphabetic", "titleAlign": "center"}},
      "y": {"field": "beta", "type": "quantitative", "scale": {"domain": [0, 580], "nice": false},
        "axis": {"orient": "left", "title": "βₛ (kg/m³)", "values": [0,20,40,60,80,100,120,140,160,180,200,220,240,260,280,300,320,340,360,380,400,420,440,460,480,500,520,540,560,580],
          "labelExpr": "datum.value % 100 == 0 ? datum.label : ''",
          "tickSize": -5,
          "tickOpacity": {"condition": {"test": "datum.value % 100 == 0", "value": 1}, "value": 0},
          "grid": true,
          "gridColor": {"condition": {"test": "datum.value % 100 == 0", "value": "#e2e2e2"}, "value": "#c4c4c4"},
          "gridDash": {"condition": {"test": "datum.value % 100 == 0", "value": []}, "value": [1, 2]},
          "gridWidth": 0.8,
          "labelPadding": 12, "labelOverlap": false, "labelFlush": false,
          "titleX": -46, "titleY": 151, "titleAngle": -90, "titleBaseline": "alphabetic", "titleAlign": "center"}},
      "color": {"datum": "Simulated samples", "type": "nominal",
        "scale": {"domain": ["Simulated samples", "Second order polynomial"], "range": ["#0072BD", "#EDB120"]},
        "legend": {"title": null, "orient": "top-left", "offset": 14, "padding": 2, "strokeColor": "#262626", "fillColor": "white",
          "labelFont": "DejaVu Serif", "labelFontSize": 14, "labelColor": "#000000", "labelLimit": 0,
          "symbolSize": 324, "symbolOffset": 17, "labelOffset": 18, "rowPadding": 1, "symbolStrokeWidth": 1.3}},
      "shape": {"datum": "Simulated samples", "type": "nominal",
        "scale": {"domain": ["Simulated samples", "Second order polynomial"], "range": ["M-0.5,0H0.5M0,-0.5V0.5", "M-2.75,-0.1H2.75M-2.75,0H2.75M-2.75,0.1H2.75"]},
        "legend": {"title": null, "orient": "top-left", "offset": 14, "padding": 2, "strokeColor": "#262626", "fillColor": "white",
          "labelFont": "DejaVu Serif", "labelFontSize": 14, "labelColor": "#000000", "labelLimit": 0,
          "symbolSize": 324, "symbolOffset": 17, "labelOffset": 18, "rowPadding": 1, "symbolStrokeWidth": 1.3}}
    }
  },
  {
    "data": {"name": "fit"},
    "mark": {"type": "line", "strokeWidth": 3, "clip": true},
    "encoding": {
      "x": {"field": "C", "type": "quantitative",
        "axis": {"orient": "top", "title": null, "values": [0.13,0.15,0.17,0.19,0.21], "labels": false, "grid": false, "tickSize": -5}},
      "y": {"field": "beta", "type": "quantitative",
        "axis": {"orient": "right", "title": null, "values": [0,100,200,300,400,500], "labels": false, "grid": false, "tickSize": -5}},
      "color": {"datum": "Second order polynomial", "type": "nominal"}
    }
  }
],
"resolve": {"axis": {"x": "independent", "y": "independent"}}
}
